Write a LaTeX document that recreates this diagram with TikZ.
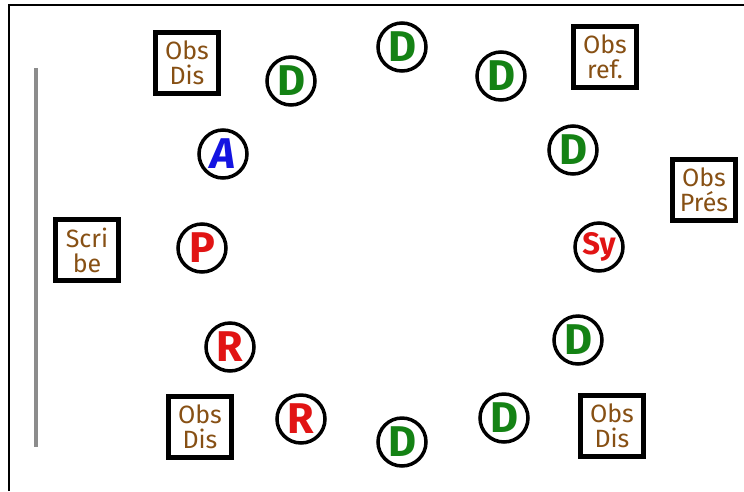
\documentclass[tikz,border=0pt]{standalone}
\usepackage{fontspec}
\usepackage{tikz}
\newfontfamily\handfont{Fira Sans}
\definecolor{obsbrown}{RGB}{135,80,20}
\definecolor{dgreen}{RGB}{20,130,20}
\definecolor{ablue}{RGB}{20,20,225}
\definecolor{pred}{RGB}{225,20,20}

\begin{document}
\begin{tikzpicture}[x=1pt, y=-1pt,
        every node/.append style={font=\handfont},
        seat/.style={circle, draw=black, line width=3.5pt, fill=white,
          minimum size=48pt, inner sep=0pt, font=\handfont\bfseries\fontsize{43}{43}\selectfont},
        obsbox/.style={rectangle, draw=black, line width=4.5pt, fill=white,
          minimum width=63pt, minimum height=61pt, inner sep=0pt, align=center,
          text=obsbrown, font=\handfont\fontsize{25}{25}\selectfont}]
      \useasboundingbox (0,0) rectangle (744,491);
      \draw[line width=2pt] (9,491) -- (9,5) -- (744,5);
      \draw[line width=4pt, gray!90] (36,68) -- (36,447);
      % observers
      \node (ObsDisTL) [obsbox] at (187,63) {Obs\\Dis};
      \node (ObsRef) [obsbox] at (605,57) {Obs\\ref.};
      \node (ObsPres) [obsbox] at (704,190) {Obs\\Prés};
      \node (Scribe) [obsbox] at (87,250) {Scri\\be};
      \node (ObsDisBL) [obsbox] at (200,427) {Obs\\Dis};
      \node (ObsDisBR) [obsbox] at (612,426) {Obs\\Dis};
      % table
      \node (D1) [seat, text=dgreen] at (291,81) {D};
      \node (D2) [seat, text=dgreen] at (402,47) {D};
      \node (D3) [seat, text=dgreen] at (501,76) {D};
      \node (D4) [seat, text=dgreen] at (573,150) {D};
      \node (Sy) [seat, text=pred, font=\handfont\bfseries\fontsize{31}{31}\selectfont] at (599,247) {Sy};
      \node (D5) [seat, text=dgreen] at (578,340) {D};
      \node (D6) [seat, text=dgreen] at (504,418) {D};
      \node (D7) [seat, text=dgreen] at (402,442) {D};
      \node (R2) [seat, text=pred] at (301,419) {R};
      \node (R1) [seat, text=pred] at (230,347) {R};
      \node (P) [seat, text=pred] at (202,248) {P};
      \node (A) [seat, text=ablue, font=\handfont\bfseries\itshape\fontsize{43}{43}\selectfont] at (223,154) {A};
\end{tikzpicture}
\end{document}
